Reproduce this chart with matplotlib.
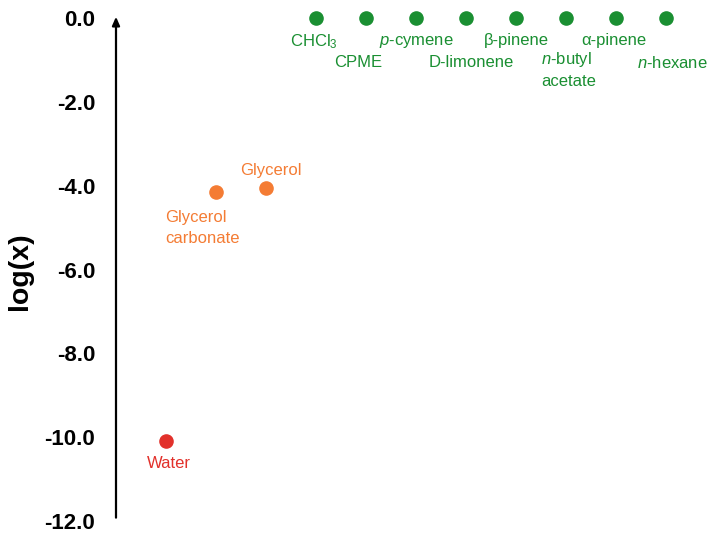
"""Solvent partition values on a log scale."""
import matplotlib
matplotlib.use('Agg')
import matplotlib.pyplot as plt

plt.rcParams['font.family'] = ['Liberation Sans', 'DejaVu Sans']
plt.rcParams['mathtext.fontset'] = 'custom'
plt.rcParams['mathtext.rm'] = 'Liberation Sans'
plt.rcParams['mathtext.it'] = 'Liberation Sans:italic'

# Solvents and their log(x) values
water_name = 'Water'
water_logx = -10.1

polar_names = ['Glycerol\ncarbonate', 'Glycerol']
polar_logx = [-4.15, -4.05]

green_names = [r'CHCl$_3$', 'CPME', r'$\it{p}$-cymene', 'D-limonene',
               'β-pinene', '$\\it{n}$-butyl\nacetate',
               'α-pinene', r'$\it{n}$-hexane']
green_logx = [0.0, 0.0, 0.0, 0.0, 0.0, 0.0, 0.0, 0.0]

yticks = [0.0, -2.0, -4.0, -6.0, -8.0, -10.0, -12.0]
ytick_labels = ['0.0', '-2.0', '-4.0', '-6.0', '-8.0', '-10.0', '-12.0']

# label offsets (pixels) below each green dot, alternating rows
green_offsets = [(-2, -21), (-8, -43), (0, -21), (5, -43),
                 (0, -21), (-25, -32), (-2, -21), (6, -43)]

RED = '#e2312b'
ORANGE = '#f47c34'
GREEN = '#1a8f32'

fig = plt.figure(figsize=(7.08, 5.35), dpi=100)
ax = fig.add_axes([116 / 708, 14 / 535, 592 / 708, 503 / 535])
ax.set_xlim(0, 592 / 50)
ax.set_ylim(-12, 0)

dot = 90

# water
ax.scatter([1], [water_logx], s=dot, color=RED, zorder=3, clip_on=False)
ax.annotate(water_name, (1, water_logx), xytext=(3, -22),
            textcoords='offset pixels', ha='center', va='center',
            color=RED, fontsize=12)

# glycerol carbonate and glycerol
px = [2, 3]
ax.scatter(px, polar_logx, s=dot, color=ORANGE, zorder=3, clip_on=False)
ax.annotate(polar_names[0], (px[0], polar_logx[0]), xytext=(-51, -36),
            textcoords='offset pixels', ha='left', va='center',
            color=ORANGE, fontsize=12, linespacing=1.5)
ax.annotate(polar_names[1], (px[1], polar_logx[1]), xytext=(5, 17),
            textcoords='offset pixels', ha='center', va='center',
            color=ORANGE, fontsize=12)

# apolar solvents along the top
gx = list(range(4, 4 + len(green_names)))
ax.scatter(gx, green_logx, s=dot, color=GREEN, zorder=3, clip_on=False)
for x, y, name, off in zip(gx, green_logx, green_names, green_offsets):
    if '\n' in name:
        ax.annotate(name, (x, y), xytext=off, textcoords='offset pixels',
                    ha='left', va='top', color=GREEN, fontsize=12,
                    linespacing=1.45)
    else:
        ax.annotate(name, (x, y), xytext=off, textcoords='offset pixels',
                    ha='center', va='center_baseline', color=GREEN,
                    fontsize=12)

# vertical axis drawn as an arrow
for side in ['left', 'right', 'top', 'bottom']:
    ax.spines[side].set_visible(False)
ax.annotate('', xy=(0, 0.03), xytext=(0, -11.92),
            arrowprops=dict(arrowstyle='-|>,head_length=0.5,head_width=0.22',
                            color='black', lw=1.6, shrinkA=0, shrinkB=0),
            annotation_clip=False)

ax.set_xticks([])
ax.set_yticks(yticks)
ax.set_yticklabels(ytick_labels, fontsize=16, fontweight='bold')
ax.tick_params(axis='y', length=0, pad=15)
ax.set_ylabel('log(x)', fontsize=20.5, fontweight='bold')
ax.yaxis.set_label_coords(-83 / 592, 0.5 - 2 / 503)

fig.savefig('out.png', dpi=100)
